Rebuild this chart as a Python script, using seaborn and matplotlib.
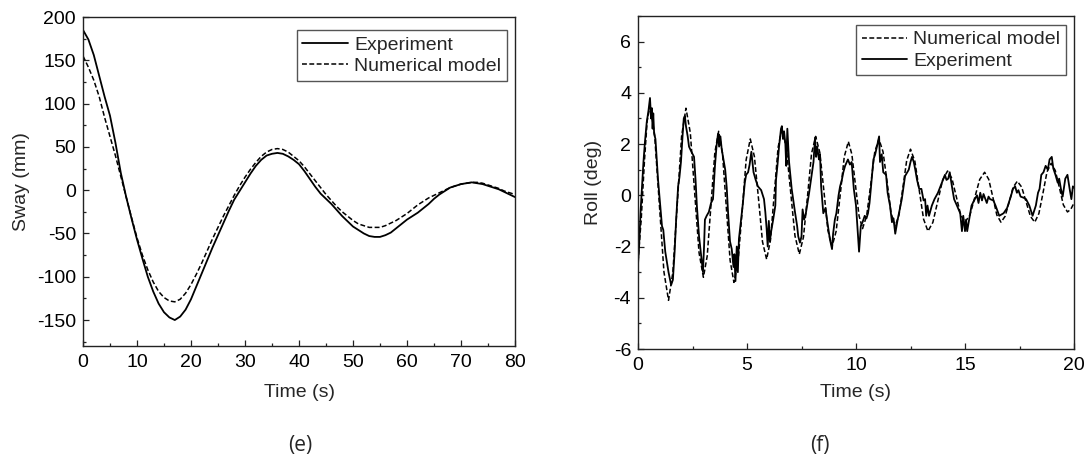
import numpy as np
import pandas as pd
import seaborn as sns
import matplotlib
matplotlib.use("Agg")
import matplotlib.pyplot as plt
from matplotlib.ticker import MultipleLocator

# ---------------- data: (e) sway ----------------
sway_time = list(range(0, 81))
sway_experiment = [185, 174, 156, 132, 108, 86, 55, 20, -8, -33,
                   -57, -79, -100, -117, -131, -141, -147, -150, -146, -138,
                   -126, -111, -96, -81, -66, -52, -38, -24, -11, -1,
                   9, 19, 28, 35, 40, 42, 43, 42, 39, 35,
                   30, 22, 13, 4, -4, -10, -16, -23, -30, -36,
                   -42, -46, -50, -53, -54, -54, -52, -49, -44, -39,
                   -34, -30, -26, -21, -16, -10, -5, -1, 3, 5,
                   7, 8, 9, 8, 7, 5, 3, 1, -2, -5, -8]
sway_numerical = [155, 142, 127, 108, 84, 62, 40, 16, -8, -32,
                  -55, -75, -92, -106, -117, -124, -128, -129, -126, -119,
                  -109, -97, -84, -70, -56, -43, -30, -18, -6, 5,
                  15, 24, 32, 39, 44, 47, 48, 47, 44, 39,
                  34, 27, 19, 11, 3, -5, -12, -19, -25, -30,
                  -35, -39, -41, -43, -43, -43, -41, -38, -35, -31,
                  -27, -22, -17, -13, -9, -6, -3, 0, 3, 5,
                  7, 8, 9, 9, 8, 6, 4, 2, -1, -3, -5]

# ---------------- data: (f) roll ----------------
roll_num_time = [0.00, 0.15, 0.30, 0.42, 0.55, 0.76, 0.975, 1.19, 1.40,
                 1.60, 1.80, 2.00, 2.20, 2.40, 2.60, 2.80, 3.00,
                 3.175, 3.35, 3.525, 3.70, 3.875, 4.05, 4.225, 4.40,
                 4.59, 4.78, 4.96, 5.15, 5.34, 5.53, 5.71, 5.90,
                 6.075, 6.25, 6.425, 6.60, 6.80, 7.00, 7.20, 7.40,
                 7.59, 7.78, 7.96, 8.15, 8.34, 8.53, 8.71, 8.90,
                 9.09, 9.28, 9.46, 9.65, 9.81, 9.975, 10.14, 10.30,
                 10.49, 10.68, 10.86, 11.05, 11.24, 11.43, 11.61, 11.80,
                 11.975, 12.15, 12.325, 12.50, 12.70, 12.90, 13.10, 13.30,
                 13.525, 13.75, 13.975, 14.20, 14.40, 14.60, 14.80, 15.00,
                 15.225, 15.45, 15.675, 15.90, 16.09, 16.28, 16.46, 16.65,
                 16.84, 17.03, 17.21, 17.40, 17.60, 17.80, 18.00, 18.20,
                 18.39, 18.58, 18.76, 18.95, 19.14, 19.33, 19.51, 19.70,
                 19.85, 20.00]
roll_numerical = [-2.6, -0.9, 1.4, 2.9, 3.5, 2.39, -0.3, -2.99, -4.1,
                  -3.0, -0.35, 2.31, 3.4, 2.44, 0.1, -2.24, -3.2,
                  -2.37, -0.35, 1.67, 2.5, 1.64, -0.45, -2.54, -3.4,
                  -2.58, -0.6, 1.38, 2.2, 1.51, -0.15, -1.81, -2.5,
                  -1.76, 0.05, 1.86, 2.6, 1.88, 0.15, -1.58, -2.3,
                  -1.63, 0.0, 1.63, 2.3, 1.67, 0.15, -1.37, -2.0,
                  -1.4, 0.05, 1.5, 2.1, 1.6, 0.4, -0.8, -1.3,
                  -0.79, 0.45, 1.69, 2.2, 1.7, 0.5, -0.7, -1.2,
                  -0.76, 0.3, 1.36, 1.8, 1.33, 0.2, -0.93, -1.4,
                  -1.06, -0.23, 0.6, 0.95, 0.66, -0.05, -0.76, -1.05,
                  -0.77, -0.08, 0.62, 0.9, 0.62, -0.08, -0.77, -1.05,
                  -0.82, -0.25, 0.32, 0.55, 0.32, -0.25, -0.82, -1.05,
                  -0.71, 0.1, 0.91, 1.25, 0.97, 0.3, -0.37, -0.65,
                  -0.55, -0.3]

roll_exp_time = [0.00, 0.05, 0.12, 0.20, 0.25, 0.32, 0.40, 0.48, 0.55, 0.60,
                 0.64, 0.67, 0.70, 0.74, 0.80, 0.92, 1.02, 1.10, 1.16, 1.25,
                 1.40, 1.52, 1.60, 1.68, 1.75, 1.84, 1.90, 1.97, 2.05, 2.10,
                 2.15, 2.20, 2.28, 2.34, 2.45, 2.57, 2.64, 2.70, 2.80, 2.90,
                 2.98, 3.03, 3.07, 3.15, 3.25, 3.35, 3.44, 3.53, 3.60, 3.67,
                 3.72, 3.78, 3.84, 3.90, 4.00, 4.07, 4.13, 4.22, 4.30, 4.38,
                 4.42, 4.47, 4.53, 4.58, 4.63, 4.72, 4.80, 4.90, 4.96, 5.05,
                 5.12, 5.20, 5.25, 5.30, 5.40, 5.50, 5.65, 5.78, 5.84, 5.90,
                 5.95, 6.00, 6.05, 6.10, 6.20, 6.30, 6.33, 6.40, 6.47, 6.56,
                 6.60, 6.65, 6.70, 6.76, 6.80, 6.85, 6.90, 6.93, 7.05, 7.20,
                 7.30, 7.35, 7.43, 7.50, 7.55, 7.62, 7.70, 7.85, 7.98, 8.05,
                 8.12, 8.17, 8.22, 8.30, 8.35, 8.40, 8.50, 8.60, 8.67, 8.75,
                 8.80, 8.90, 8.95, 9.03, 9.10, 9.20, 9.27, 9.35, 9.42, 9.50,
                 9.63, 9.72, 9.80, 9.90, 10.00, 10.05, 10.14, 10.22, 10.30, 10.40,
                 10.48, 10.55, 10.62, 10.68, 10.80, 10.88, 10.96, 11.06, 11.10, 11.18,
                 11.25, 11.38, 11.45, 11.56, 11.65, 11.72, 11.80, 11.90, 11.97, 12.10,
                 12.25, 12.35, 12.42, 12.50, 12.57, 12.65, 12.72, 12.80, 12.90, 13.00,
                 13.10, 13.17, 13.22, 13.28, 13.35, 13.48, 13.60, 13.76, 13.94, 14.08,
                 14.15, 14.23, 14.30, 14.40, 14.50, 14.63, 14.78, 14.86, 14.92, 15.00,
                 15.05, 15.10, 15.20, 15.30, 15.45, 15.55, 15.62, 15.70, 15.78, 15.85,
                 16.00, 16.08, 16.15, 16.30, 16.40, 16.57, 16.77, 16.93, 17.10, 17.20,
                 17.30, 17.38, 17.45, 17.55, 17.70, 17.80, 17.95, 18.10, 18.25, 18.35,
                 18.42, 18.50, 18.60, 18.70, 18.80, 18.88, 18.98, 19.05, 19.15, 19.25,
                 19.32, 19.40, 19.48, 19.60, 19.70, 19.80, 19.88, 19.95, 20.00]
roll_experiment = [-2.7, -2.0, -0.6, 0.6, 1.3, 2.1, 2.85, 3.3, 3.8, 3.0,
                   3.4, 2.6, 3.2, 2.4, 2.2, 0.6, -0.4, -1.2, -1.35, -2.2,
                   -3.0, -3.5, -3.3, -2.2, -0.95, 0.35, 0.7, 1.3, 2.4, 3.0,
                   3.1, 2.7, 2.3, 1.9, 1.7, 1.5, 0.6, -0.4, -1.6, -2.4,
                   -3.0, -2.0, -0.95, -0.8, -0.65, -0.3, -0.15, 1.15, 1.9, 2.4,
                   1.9, 2.3, 1.8, 1.5, 1.0, 0.3, -0.65, -1.8, -2.1, -2.8,
                   -2.3, -3.35, -2.0, -3.0, -1.7, -1.0, -0.4, 0.5, 0.8, 0.9,
                   1.2, 1.7, 1.3, 0.9, 0.6, 0.35, 0.2, -0.15, -0.65, -1.3,
                   -2.0, -1.0, -1.8, -1.45, -0.95, -0.4, 0.6, 1.2, 1.9, 2.6,
                   2.7, 2.2, 2.5, 2.0, 1.15, 2.6, 1.8, 1.3, 0.25, -0.65,
                   -1.2, -1.6, -1.85, -1.6, -0.55, -0.95, -0.7, 0.1, 0.9, 1.3,
                   2.25, 1.5, 1.9, 1.4, 1.6, 0.35, -0.7, -0.5, -0.95, -1.4,
                   -1.7, -2.1, -1.5, -0.95, -0.7, 0.0, 0.35, 0.6, 0.9, 1.15,
                   1.4, 1.2, 1.3, 0.25, -0.4, -1.05, -2.2, -1.2, -1.05, -0.8,
                   -0.9, -0.7, -0.3, 0.25, 1.4, 1.6, 1.9, 2.3, 1.3, 1.6,
                   0.9, 0.8, 0.1, -0.4, -1.05, -0.9, -1.5, -1.0, -0.7, -0.15,
                   0.75, 0.9, 1.0, 1.3, 1.5, 1.3, 1.0, 0.6, 0.25, 0.25,
                   -0.2, -0.15, -0.8, -0.4, -0.8, -0.4, -0.15, 0.1, 0.5, 0.8,
                   0.6, 0.65, 0.9, 0.35, -0.15, -0.4, -0.7, -1.4, -0.8, -1.4,
                   -0.95, -1.4, -0.9, -0.4, -0.15, 0.0, -0.3, 0.1, -0.2, 0.05,
                   -0.3, -0.05, -0.15, -0.2, -0.4, -0.8, -0.7, -0.5, -0.05, 0.25,
                   0.35, 0.1, 0.2, -0.05, -0.1, -0.15, -0.4, -0.8, -0.4, 0.1,
                   0.25, 0.8, 0.9, 1.15, 1.0, 1.4, 1.5, 1.05, 0.8, 0.5,
                   0.65, 0.25, -0.05, 0.65, 0.8, 0.25, -0.15, 0.35, 0.3]

sway_xticks = [0, 10, 20, 30, 40, 50, 60, 70, 80]
sway_yticks = [-150, -100, -50, 0, 50, 100, 150, 200]
roll_xticks = [0, 5, 10, 15, 20]
roll_yticks = [-6, -4, -2, 0, 2, 4, 6]

# ---------------- style ----------------
sns.set_style("ticks")
plt.rcParams["font.family"] = ["Liberation Sans", "DejaVu Sans"]
plt.rcParams["axes.unicode_minus"] = False

FS = 14

fig = plt.figure(figsize=(10.9, 4.66), dpi=100)
ax1 = fig.add_axes([83 / 1090, 1 - 346 / 466, 432 / 1090, 329 / 466])
ax2 = fig.add_axes([638 / 1090, 1 - 349 / 466, 436 / 1090, 333 / 466])

dash = (0, (3.2, 1.6))
lw = 1.3

# (e)
sns.lineplot(x=sway_time, y=sway_experiment, ax=ax1, color="black", lw=lw,
             label="Experiment", estimator=None, sort=False)
sns.lineplot(x=sway_time, y=sway_numerical, ax=ax1, color="black", lw=1.1,
             linestyle=dash, label="Numerical model", estimator=None, sort=False)

# (f)
sns.lineplot(x=roll_num_time, y=roll_numerical, ax=ax2, color="black", lw=1.1,
             linestyle=dash, label="Numerical model", estimator=None, sort=False)
sns.lineplot(x=roll_exp_time, y=roll_experiment, ax=ax2, color="black", lw=lw,
             label="Experiment", estimator=None, sort=False)

ax1.set_xlim(0, 80)
ax1.set_ylim(-180, 200)
ax1.set_xticks(sway_xticks)
ax1.set_yticks(sway_yticks)
ax1.xaxis.set_minor_locator(MultipleLocator(5))
ax1.yaxis.set_minor_locator(MultipleLocator(25))

ax2.set_xlim(0, 20)
ax2.set_ylim(-6, 7)
ax2.set_xticks(roll_xticks)
ax2.set_yticks(roll_yticks)
ax2.xaxis.set_minor_locator(MultipleLocator(2.5))
ax2.yaxis.set_minor_locator(MultipleLocator(1))

for ax in (ax1, ax2):
    for s in ax.spines.values():
        s.set_visible(True)
        s.set_color("#222222")
        s.set_linewidth(1.0)
    ax.tick_params(axis="both", which="major", direction="in", length=4.5,
                   width=0.9, labelsize=FS, colors="#222222", labelcolor="black")
    ax.tick_params(axis="both", which="minor", direction="in", length=2.5,
                   width=0.9, colors="#222222")
    ax.tick_params(axis="x", which="major", pad=6)
    ax.tick_params(axis="y", which="major", pad=5)
    ax.tick_params(top=False, right=False, which="both")

ax1.set_xlabel("Time (s)", fontsize=FS)
ax1.set_ylabel("Sway (mm)", fontsize=FS)
ax2.set_xlabel("Time (s)", fontsize=FS)
ax2.set_ylabel("Roll (deg)", fontsize=FS)
ax1.xaxis.set_label_coords(0.5, -0.115)
ax2.xaxis.set_label_coords(0.5, -0.105)
ax1.yaxis.set_label_coords(-0.123, 0.5)
ax2.yaxis.set_label_coords(-0.083, 0.5)

leg_kw = dict(loc="upper right", frameon=True, fancybox=False, fontsize=FS,
              handlelength=2.35, handletextpad=0.3, borderpad=0.3,
              labelspacing=0.18, borderaxespad=0.0)
l1 = ax1.legend(bbox_to_anchor=(0.981, 0.960), **leg_kw)
l2 = ax2.legend(bbox_to_anchor=(0.982, 0.973), **leg_kw)
for lg in (l1, l2):
    lg.get_frame().set_edgecolor("#555555")
    lg.get_frame().set_linewidth(1.0)
    lg.get_frame().set_alpha(1)

fig.text(300 / 1090, 1 - 446 / 466, "(e)", ha="center", va="center",
         fontsize=15, family=["Open Sans", "DejaVu Sans"])
fig.text(820 / 1090, 1 - 446 / 466, "(f)", ha="center", va="center",
         fontsize=15, family=["Open Sans", "DejaVu Sans"])

fig.savefig("out.png", dpi=100)
